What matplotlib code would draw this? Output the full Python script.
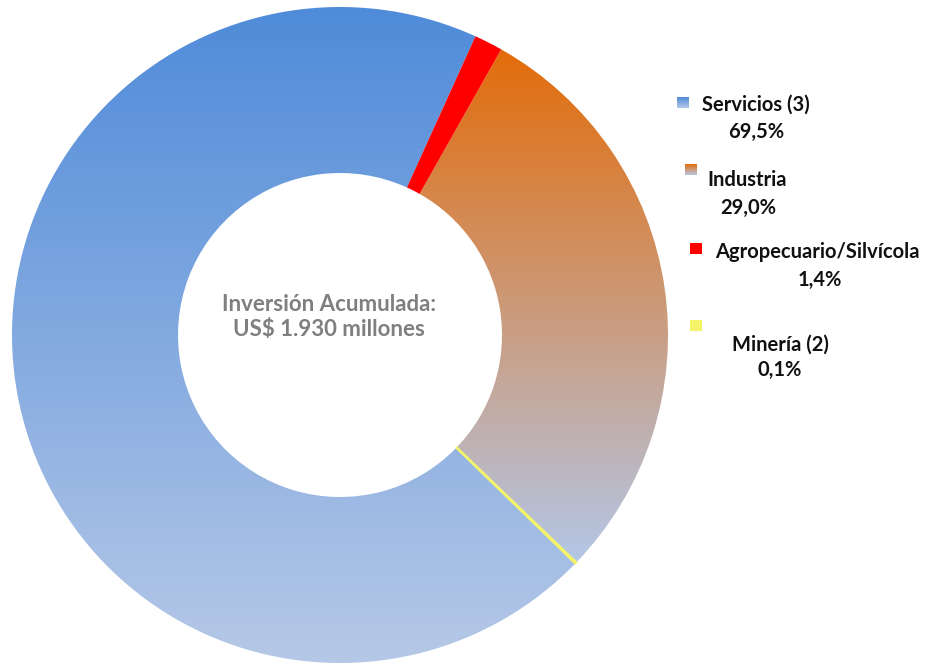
import numpy as np
import matplotlib.pyplot as plt
from matplotlib.colors import to_rgb
from matplotlib.patches import Rectangle

# Datos: participación en la inversión acumulada (%)
sectores = ["Servicios (3)", "Industria", "Agropecuario/Silvícola", "Minería (2)"]
porcentajes = [69.5, 29.0, 1.4, 0.1]
etiquetas_pct = ["69,5%", "29,0%", "1,4%", "0,1%"]
titulo_centro = "Inversión Acumulada:\nUS$ 1.930 millones"

# colores (arriba, abajo) de cada degradado
colores = {
    "Servicios (3)": ("#4f8bd9", "#b6c8e7"),
    "Industria": ("#e36c0a", "#b4c7e7"),
    "Agropecuario/Silvícola": ("#ff0000", "#ff0000"),
    "Minería (2)": ("#f4f46a", "#f4f46a"),
}

# orden de las porciones en la torta (sentido horario)
orden = ["Servicios (3)", "Agropecuario/Silvícola", "Industria", "Minería (2)"]

W, H = 925, 666
plt.rcParams['font.family'] = ['Lato', 'DejaVu Sans']


def gradiente(ax, top, bottom, extent, clip):
    n = 256
    c0 = np.array(to_rgb(top))
    c1 = np.array(to_rgb(bottom))
    t = np.linspace(0, 1, n)[:, None, None]
    img = c0 * (1 - t) + c1 * t
    im = ax.imshow(img, extent=extent, origin="upper", aspect="auto",
                   interpolation="bilinear", zorder=1)
    im.set_clip_path(clip)
    return im


fig = plt.figure(figsize=(W / 100, H / 100), dpi=100)
ax = fig.add_axes([0, 0, 1, 1])

vals = [porcentajes[sectores.index(s)] for s in orden]
wedges, _ = ax.pie(vals, center=(340, 331), radius=328, startangle=-44.2,
                   counterclock=False, frame=True,
                   wedgeprops=dict(width=166, linewidth=0))

for w, s in zip(wedges, orden):
    top, bottom = colores[s]
    if s == "Minería (2)":
        w.set_facecolor(top)
        w.set_edgecolor(top)
        w.set_linewidth(1.2)
        w.set_zorder(3)
        continue
    if top == bottom:
        w.set_facecolor(top)
        w.set_zorder(2)
        continue
    w.set_facecolor("none")
    ext = w.get_path().get_extents()
    gradiente(ax, top, bottom, (ext.x0, ext.x1, ext.y0, ext.y1), w)

ax.text(329, H - 317, titulo_centro, ha="center", va="center", fontsize=16,
        fontweight="bold", color="#7f7f7f", linespacing=1.2)

# leyenda manual (posición como en la imagen original)
leyenda = {
    "Servicios (3)": ((677, 97), (702, 105), (756, 132)),
    "Industria": ((685, 164), (707, 180), (748, 208)),
    "Agropecuario/Silvícola": ((690, 243), (715, 252), (820, 280)),
    "Minería (2)": ((690, 320), (780, 345), (780, 370)),
}
for s, pct in zip(sectores, etiquetas_pct):
    (mx, my), (tx, ty), (px, py) = leyenda[s]
    top, bottom = colores[s]
    r = Rectangle((mx, H - my - 11), 12, 11, facecolor="none", edgecolor="none")
    ax.add_patch(r)
    gradiente(ax, top, bottom, (mx, mx + 12, H - my - 11, H - my), r)
    ha = "center" if s == "Minería (2)" else "left"
    ax.text(tx, H - ty, s, ha=ha, va="center", fontsize=14.5,
            fontweight="bold", color="#111111")
    ax.text(px, H - py, pct, ha="center", va="center", fontsize=14.5,
            fontweight="bold", color="#111111")

ax.set_xlim(0, W)
ax.set_ylim(0, H)
ax.set_aspect("equal")
ax.axis("off")

fig.savefig("out.png", dpi=100)
